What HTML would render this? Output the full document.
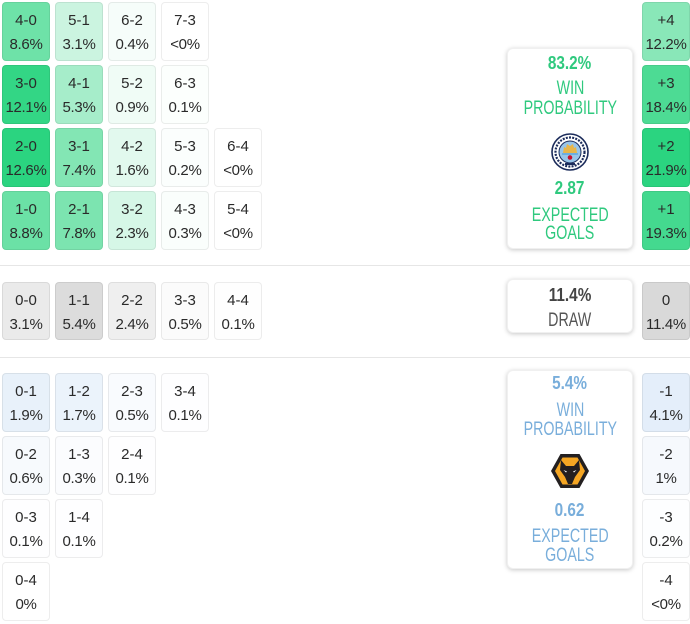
<!DOCTYPE html>
<html>
<head>
<meta charset="utf-8">
<style>
html,body{margin:0;padding:0;background:#fff;}
body{width:690px;height:624px;position:relative;overflow:hidden;font-family:"Liberation Sans",sans-serif;color:#2a2a2a;}
.c{position:absolute;width:48px;height:59px;box-sizing:border-box;border:1px solid rgba(0,0,0,0.07);border-radius:4px;}
.c .a,.c .b{position:absolute;left:0;right:0;text-align:center;font-size:15px;line-height:20px;height:20px;white-space:nowrap;}
.c .a{top:8px;}
.c .b{top:32px;letter-spacing:-0.3px;}
.sep{position:absolute;left:0;width:690px;height:1px;background:#e6e6e6;}
.box{position:absolute;left:507px;width:126px;background:#fff;border-radius:6px;box-shadow:0 1px 5px rgba(0,0,0,0.22);border:1px solid #f0f0f0;box-sizing:border-box;}
.box .l{position:absolute;left:0;width:124px;text-align:center;height:22px;line-height:22px;white-space:nowrap;}
.box .l span{display:inline-block;transform:scaleX(0.75);transform-origin:center;font-size:19px;}
.box .l.n span{font-weight:bold;transform:scaleX(0.85);font-size:18px;}
.g{color:#2fc97e;}
.bl{color:#79aedb;}
.d{color:#444;}
.d2{color:#555;}
</style>
</head>
<body>

<!-- HOME GRID -->
<div class="c" style="left:2px;top:2px;background:rgb(110,226,168)"><div class="a">4-0</div><div class="b">8.6%</div></div>
<div class="c" style="left:55px;top:2px;background:rgb(203,244,224)"><div class="a">5-1</div><div class="b">3.1%</div></div>
<div class="c" style="left:108px;top:2px;background:rgb(246,253,250)"><div class="a">6-2</div><div class="b">0.4%</div></div>
<div class="c" style="left:161px;top:2px;background:#fff"><div class="a">7-3</div><div class="b">&lt;0%</div></div>

<div class="c" style="left:2px;top:65px;background:rgb(51,214,133)"><div class="a">3-0</div><div class="b">12.1%</div></div>
<div class="c" style="left:55px;top:65px;background:rgb(166,237,202)"><div class="a">4-1</div><div class="b">5.3%</div></div>
<div class="c" style="left:108px;top:65px;background:rgb(240,252,246)"><div class="a">5-2</div><div class="b">0.9%</div></div>
<div class="c" style="left:161px;top:65px;background:rgb(252,255,253)"><div class="a">6-3</div><div class="b">0.1%</div></div>

<div class="c" style="left:2px;top:128px;background:rgb(43,212,128)"><div class="a">2-0</div><div class="b">12.6%</div></div>
<div class="c" style="left:55px;top:128px;background:rgb(131,230,180)"><div class="a">3-1</div><div class="b">7.4%</div></div>
<div class="c" style="left:108px;top:128px;background:rgb(226,249,238)"><div class="a">4-2</div><div class="b">1.6%</div></div>
<div class="c" style="left:161px;top:128px;background:rgb(251,254,253)"><div class="a">5-3</div><div class="b">0.2%</div></div>
<div class="c" style="left:214px;top:128px;background:#fff"><div class="a">6-4</div><div class="b">&lt;0%</div></div>

<div class="c" style="left:2px;top:191px;background:rgb(107,225,166)"><div class="a">1-0</div><div class="b">8.8%</div></div>
<div class="c" style="left:55px;top:191px;background:rgb(124,228,176)"><div class="a">2-1</div><div class="b">7.8%</div></div>
<div class="c" style="left:108px;top:191px;background:rgb(214,247,231)"><div class="a">3-2</div><div class="b">2.3%</div></div>
<div class="c" style="left:161px;top:191px;background:rgb(250,254,252)"><div class="a">4-3</div><div class="b">0.3%</div></div>
<div class="c" style="left:214px;top:191px;background:#fff"><div class="a">5-4</div><div class="b">&lt;0%</div></div>

<!-- HOME RIGHT COLUMN -->
<div class="c" style="left:642px;top:2px;background:rgb(137,231,184)"><div class="a">+4</div><div class="b">12.2%</div></div>
<div class="c" style="left:642px;top:65px;background:rgb(77,219,148)"><div class="a">+3</div><div class="b">18.4%</div></div>
<div class="c" style="left:642px;top:128px;background:rgb(43,212,128)"><div class="a">+2</div><div class="b">21.9%</div></div>
<div class="c" style="left:642px;top:191px;background:rgb(68,217,143)"><div class="a">+1</div><div class="b">19.3%</div></div>

<!-- HOME BOX -->
<div class="box" style="top:48px;height:201px;">
  <div class="l n g" style="top:3px"><span>83.2%</span></div>
  <div class="l g" style="top:29px"><span>WIN</span></div>
  <div class="l g" style="top:49px"><span>PROBABILITY</span></div>
  <svg style="position:absolute;left:43px;top:84px" width="38" height="38" viewBox="0 0 38 38">
    <circle cx="19" cy="19" r="18" fill="#fff" stroke="#1c2c5b" stroke-width="1.6"/>
    <circle cx="19" cy="19" r="14.5" fill="none" stroke="#1c2c5b" stroke-width="2.2" stroke-dasharray="2 1.2"/>
    <circle cx="19" cy="19" r="11" fill="#98c5e9" stroke="#1c2c5b" stroke-width="1"/>
    <path d="M12 20 L13 14 L15 15 L16 11 L19 13 L22 11 L23 15 L25 14 L26 20 Z" fill="#e8b64a"/>
    <rect x="11" y="20" width="16" height="2" fill="#6caee0"/>
    <circle cx="19" cy="24.5" r="2.3" fill="#c8102e"/>
    <rect x="14" y="30" width="10" height="2" fill="#1c2c5b"/>
  </svg>
  <div class="l n g" style="top:128px"><span>2.87</span></div>
  <div class="l g" style="top:156px"><span>EXPECTED</span></div>
  <div class="l g" style="top:174px"><span>GOALS</span></div>
</div>

<div class="sep" style="top:265px"></div>

<!-- DRAW ROW -->
<div class="c" style="left:2px;top:282px;height:58px;background:rgb(234,234,234)"><div class="a">0-0</div><div class="b">3.1%</div></div>
<div class="c" style="left:55px;top:282px;height:58px;background:rgb(220,220,220)"><div class="a">1-1</div><div class="b">5.4%</div></div>
<div class="c" style="left:108px;top:282px;height:58px;background:rgb(239,239,239)"><div class="a">2-2</div><div class="b">2.4%</div></div>
<div class="c" style="left:161px;top:282px;height:58px;background:rgb(251,251,251)"><div class="a">3-3</div><div class="b">0.5%</div></div>
<div class="c" style="left:214px;top:282px;height:58px;background:rgb(254,254,254)"><div class="a">4-4</div><div class="b">0.1%</div></div>
<div class="c" style="left:642px;top:282px;height:58px;background:rgb(217,217,217)"><div class="a">0</div><div class="b">11.4%</div></div>

<div class="box" style="top:279px;height:54px;">
  <div class="l n d" style="top:4px"><span>11.4%</span></div>
  <div class="l d2" style="top:30px"><span>DRAW</span></div>
</div>

<div class="sep" style="top:357px"></div>

<!-- AWAY GRID -->
<div class="c" style="left:2px;top:373px;background:rgb(232,241,250)"><div class="a">0-1</div><div class="b">1.9%</div></div>
<div class="c" style="left:55px;top:373px;background:rgb(235,243,251)"><div class="a">1-2</div><div class="b">1.7%</div></div>
<div class="c" style="left:108px;top:373px;background:rgb(249,251,254)"><div class="a">2-3</div><div class="b">0.5%</div></div>
<div class="c" style="left:161px;top:373px;background:rgb(254,254,255)"><div class="a">3-4</div><div class="b">0.1%</div></div>

<div class="c" style="left:2px;top:436px;background:rgb(247,250,253)"><div class="a">0-2</div><div class="b">0.6%</div></div>
<div class="c" style="left:55px;top:436px;background:rgb(251,252,254)"><div class="a">1-3</div><div class="b">0.3%</div></div>
<div class="c" style="left:108px;top:436px;background:rgb(254,254,255)"><div class="a">2-4</div><div class="b">0.1%</div></div>

<div class="c" style="left:2px;top:499px;background:rgb(254,254,255)"><div class="a">0-3</div><div class="b">0.1%</div></div>
<div class="c" style="left:55px;top:499px;background:rgb(254,254,255)"><div class="a">1-4</div><div class="b">0.1%</div></div>

<div class="c" style="left:2px;top:562px;background:#fff"><div class="a">0-4</div><div class="b">0%</div></div>

<!-- AWAY RIGHT COLUMN -->
<div class="c" style="left:642px;top:373px;background:rgb(228,238,250)"><div class="a">-1</div><div class="b">4.1%</div></div>
<div class="c" style="left:642px;top:436px;background:rgb(246,249,253)"><div class="a">-2</div><div class="b">1%</div></div>
<div class="c" style="left:642px;top:499px;background:rgb(253,254,255)"><div class="a">-3</div><div class="b">0.2%</div></div>
<div class="c" style="left:642px;top:562px;background:#fff"><div class="a">-4</div><div class="b">&lt;0%</div></div>

<!-- AWAY BOX -->
<div class="box" style="top:370px;height:199px;">
  <div class="l n bl" style="top:1px"><span>5.4%</span></div>
  <div class="l bl" style="top:29px"><span>WIN</span></div>
  <div class="l bl" style="top:48px"><span>PROBABILITY</span></div>
  <svg style="position:absolute;left:43px;top:82px" width="38" height="36" viewBox="0 0 38 36">
    <polygon points="0,18 9.5,1 28.5,1 38,18 28.5,35 9.5,35" fill="#231f20"/>
    <polygon points="4,18 11.5,4.5 26.5,4.5 34,18 26.5,31.5 11.5,31.5" fill="#f5a623"/>
    <path d="M10 7 L15 13 L23 13 L28 7 L29 17 L24 24 L21 31 L17 31 L14 24 L9 17 Z" fill="#231f20"/>
    <path d="M12.5 17 L16 18.5 L15 19.5 Z M25.5 17 L22 18.5 L23 19.5 Z" fill="#fff"/>
  </svg>
  <div class="l n bl" style="top:128px"><span>0.62</span></div>
  <div class="l bl" style="top:155px"><span>EXPECTED</span></div>
  <div class="l bl" style="top:174px"><span>GOALS</span></div>
</div>

</body>
</html>
